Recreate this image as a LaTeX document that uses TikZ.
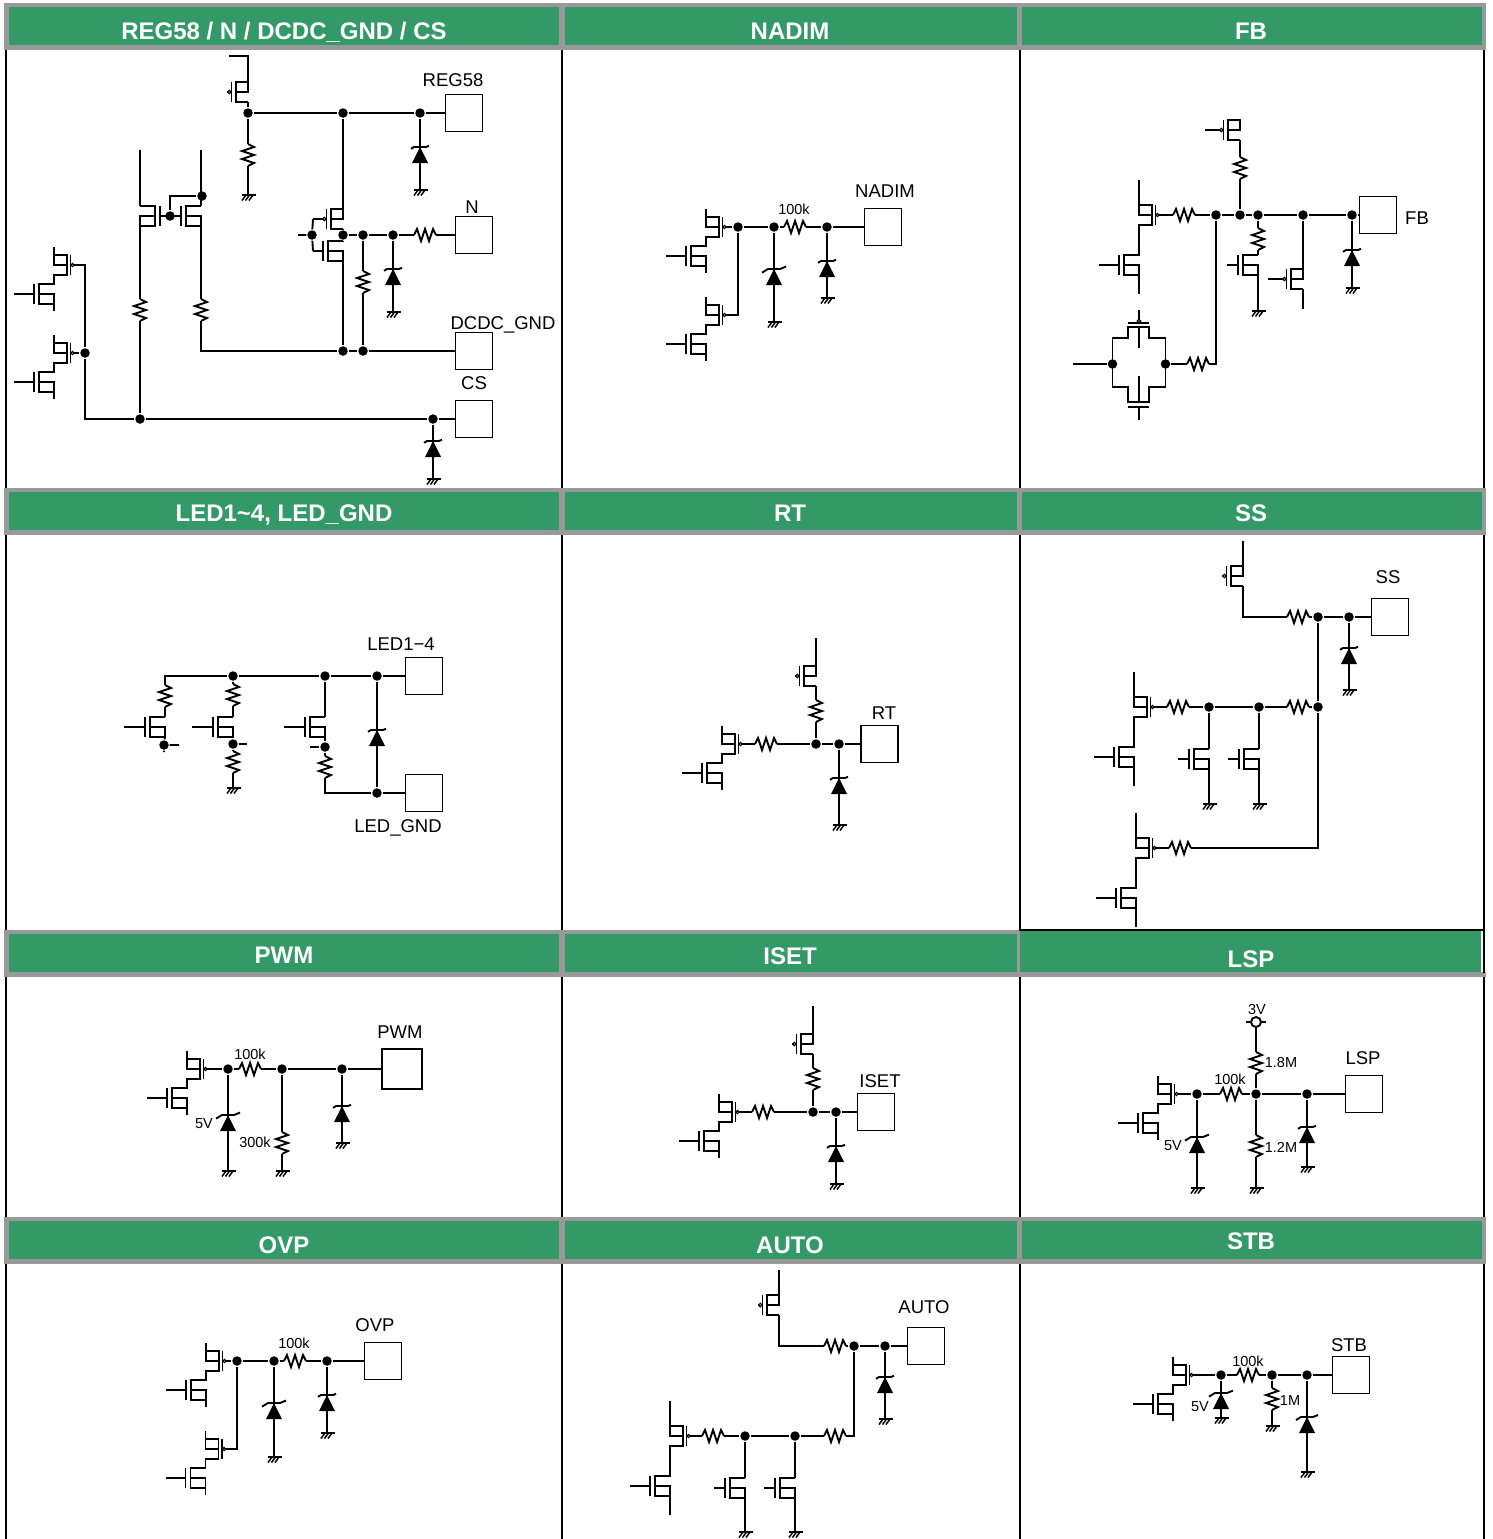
\documentclass[tikz,border=0pt]{standalone}
\usepackage{fontspec}
\setmainfont{Liberation Sans}
\usetikzlibrary{positioning}
\definecolor{hdgreen}{HTML}{339966}
\definecolor{hdgrey}{HTML}{999999}

\newcommand{\totemdraw}[3]{
  \draw (0,-#1) -- (0,0) -- (13,0);
  \draw (0,-10) -- (13,-10) -- (13,10) -- (0,10) -- (0,#2-10) -- (-15,#2-10) -- (-15,#2+10) -- (0,#2+10) -- (0,#2) -- (-15,#2);
  \draw (0,#2) -- (0,#3);
  \draw (16.5,-10) -- (16.5,10);
  \draw[line width=1.2pt] (18.5,0) circle (1.6);
  \draw (-40,#2) -- (-20,#2);
  \draw (-20,#2-10) -- (-20,#2+10);
  \coordinate (-o) at (20,0);
}

\tikzset{
  dot/.style={circle,fill=black,inner sep=0pt,minimum size=9.5pt},
  pad/.style={draw,inner sep=0pt,minimum size=37pt},
  lbl/.style={inner sep=0pt,font=\fontsize{18.5}{18.5}\selectfont},
  val/.style={inner sep=0pt,font=\fontsize{14.5}{14.5}\selectfont},
  head/.style={anchor=base,inner sep=0pt,text=white,font=\fontsize{24}{24}\selectfont\bfseries},
  pics/resh/.style={code={
    \draw (-11,0) coordinate (-l) -- (-8,-6) -- (-4,6) -- (0,-6) -- (4,6) -- (8,-6) -- (11,0) coordinate (-r);
  }},
  pics/resv/.style={code={
    \draw (0,-11) coordinate (-t) -- (6,-8) -- (-6,-4) -- (6,0) -- (-6,4) -- (6,8) -- (0,11) coordinate (-b);
  }},
  pics/gnd/.style={code={
    \coordinate (-t) at (0,0);
    \draw (-6,0) -- (7.5,0);
    \draw[line width=1.5pt] (5,0) -- (1,5.5) (1.5,0) -- (-2.5,5.5) (-2,0) -- (-6,5.5);
  }},
  pics/diode/.style={code={
    \fill (-8,8) -- (8,8) -- (0,-8) -- cycle;
    \draw (-6-#1,-8+#1*.6) -- (-6,-8) -- (6,-8) -- (6+#1,-8-#1*.4);
  }},
  pics/diode/.default=3,
  pics/nmos/.style={code={
    \draw (-#1,0) coordinate (-g) -- (-20,0);
    \draw (-20,-10) -- (-20,10);
    \draw (0,-10) coordinate (-t) -- (-15,-10) -- (-15,10) -- (0,10) coordinate (-b) -- (0,0) -- (-15,0);
  }},
  pics/nmos/.default=31,
  pics/pmos/.style={code={
    \draw (0,10) coordinate (-b) -- (-12,10) -- (-12,-10) -- (0,-10) coordinate (-t) -- (0,0) -- (-12,0);
    \draw (-16.5,-10) -- (-16.5,10);
    \draw[line width=1.2pt] (-18.7,0) circle (1.7);
    \draw (-20.3,0) -- (-#1,0) coordinate (-g);
  }},
  pics/pmos/.default=21,
  pics/totem/.style={code={\totemdraw{18}{29}{46}}},
  pics/tallpair/.style={code={\totemdraw{35}{50}{79}}},
  pics/tgate/.style={code={
    \coordinate (-l) at (-26.5,0);
    \coordinate (-r) at (26.5,0);
    \draw (-26.5,0) -- (-26.5,-26) -- (-11,-26) -- (-11,-37) -- (10,-37) -- (10,-26) -- (26.5,-26) -- (26.5,0);
    \draw (-26.5,0) -- (-26.5,23) -- (-11,23) -- (-11,38) -- (10,38) -- (10,23) -- (26.5,23) -- (26.5,0);
    \draw (-11,-41) -- (10,-41) (-11,43) -- (10,43);
    \draw (0,-36) -- (0,-16) (0,12) -- (0,38) (0,43) -- (0,56);
    \draw[line width=1.2pt] (0,-43) circle (1.7);
    \draw (0,-45) -- (0,-54);
  }},
}

\begin{document}
\begin{tikzpicture}[x=1pt,y=-1pt,line width=1.9pt]
  \useasboundingbox (0,0) rectangle (1492,1539);

  % table
  \foreach \ya/\yb in {3/50,488/535,930/977,1217/1264}{
    \fill[hdgrey] (4,\ya) rectangle (1486,\yb);
    \fill[hdgreen] (9,\ya+4) rectangle (559,\yb-5);
    \fill[hdgreen] (565,\ya+4) rectangle (1017,\yb-5);
    \fill[hdgreen] (1022,\ya+4) rectangle (1482,\yb-5);
  }
  \fill[white] (1020,926) rectangle (1487,972);
  \fill[hdgreen] (1020,931) rectangle (1481,972);
  \draw[line width=2pt] (1019,930) -- (1484,930);
  \foreach \xa in {6,562,1019.5,1483.5}{
    \foreach \ya/\yb in {50/488,535/930,977/1217,1264/1539}
      \draw[line width=2pt] (\xa,\ya) -- (\xa,\yb);
  }
  \draw[line width=2pt] (1483.5,930) -- (1483.5,973);

  \foreach \cx/\cy/\ctext [count=\i] in {
      284/39.5/{REG58 / N / DCDC\_GND / CS},790/39.5/NADIM,1251/39.5/FB,
      284/521/{LED1\textasciitilde4, LED\_GND},790/521/RT,1251/521/SS,
      284/963.5/PWM,790/964.5/ISET,1251/967.5/LSP,
      284/1253.5/OVP,790/1253.5/AUTO,1251/1249.5/STB}
    \node[head] (h\i) at (\cx,\cy) {\ctext};

  % REG58 / N / DCDC_GND / CS
  \node[pad] (pa1) at (464,113) {};
  \node[pad] (pa2) at (474,235) {};
  \node[pad] (pa3) at (474,351) {};
  \node[pad] (pa4) at (474,419) {};
  \node[lbl] (ta1) at (453,80) {REG58};
  \node[lbl] (ta2) at (472,207) {N};
  \node[lbl] (ta3) at (503,325) {DCDC\_GND};
  \node[lbl] (ta4) at (474,383) {CS};
  \node[dot] (a1) at (248,113) {};
  \node[dot] (a2) at (343,113) {};
  \node[dot] (a3) at (420,113) {};
  \node[dot] (a4) at (343,235) {};
  \node[dot] (a5) at (363,235) {};
  \node[dot] (a6) at (393,235) {};
  \node[dot] (a7) at (312,235) {};
  \node[dot] (a8) at (343,351) {};
  \node[dot] (a9) at (363,351) {};
  \node[dot] (a10) at (170,216) {};
  \node[dot] (a11) at (202,196) {};
  \node[dot] (a12) at (85,353) {};
  \node[dot] (a13) at (140,419) {};
  \node[dot] (a14) at (433,419) {};
  \pic (qa1) at (248,92) {pmos};
  \pic (qa2) at (343,219) {pmos=30};
  \pic (qa3) at (343,251) {nmos=30};
  \pic[xscale=-1] (qa4) at (140,216) {nmos=30};
  \pic (qa5) at (201,216) {nmos=31};
  \pic (ta) at (54,265) {totem};
  \pic (tb) at (54,353) {totem};
  \pic (ra1) at (248,155) {resv};
  \pic (ra2) at (363,282) {resv};
  \pic (ra3) at (140,310) {resv};
  \pic (ra4) at (201,310) {resv};
  \pic (ra5) at (425,235) {resh};
  \pic (da1) at (420,155) {diode};
  \pic (da2) at (393,277) {diode};
  \pic (da3) at (433,449) {diode};
  \pic (ga1) at (248,195) {gnd};
  \pic (ga2) at (420,190) {gnd};
  \pic (ga3) at (393,312) {gnd};
  \pic (ga4) at (433,479) {gnd};
  \coordinate (ca1) at (229,56);
  \coordinate (ca2) at (298,235);
  \coordinate (ca3) at (140,150);
  \coordinate (ca4) at (201,150);
  \draw (ca1) -| (qa1-t);
  \draw (qa1-b) -- (a1) -- (a2) -- (a3) -- (pa1);
  \draw (a1) -- (ra1-t) (ra1-b) -- (ga1-t);
  \draw (a3) -- (ga2-t);
  \draw (a2) -- (qa2-t) (qa2-b) -- (a4) -- (qa3-t) (qa3-b) -- (a8);
  \draw (qa2-g) -- (a7) -- (qa3-g) (ca2) -- (a7);
  \draw (a4) -- (a5) -- (a6) -- (ra5-l) (ra5-r) -- (pa2);
  \draw (a5) -- (ra2-t) (ra2-b) -- (a9);
  \draw (a6) -- (ga3-t);
  \draw (ca3) -- (qa4-t) (qa4-b) -- (ra3-t) (ra3-b) -- (a13);
  \draw (ca4) -- (qa5-t) (qa5-b) -- (ra4-t);
  \draw (ra4-b) |- (a8) -- (a9) -- (pa3);
  \draw (a10) |- (a11);
  \draw (ta-o) -| (a12) (tb-o) -- (a12);
  \draw (a12) |- (a13) -- (a14) -- (pa4);
  \draw (a14) -- (ga4-t);

  % NADIM
  \node[pad] (pb1) at (883,227) {};
  \node[lbl] (tb1) at (885,191) {NADIM};
  \node[val] (tb2) at (794,209) {100k};
  \node[dot] (b1) at (738,227) {};
  \node[dot] (b2) at (774,227) {};
  \node[dot] (b3) at (827,227) {};
  \pic (tc) at (706,227) {totem};
  \pic (td) at (706,315) {totem};
  \pic (rb1) at (795,227) {resh};
  \pic (db1) at (774,277) {diode=6};
  \pic (db2) at (827,269) {diode};
  \pic (gb1) at (774,322) {gnd};
  \pic (gb2) at (827,298) {gnd};
  \draw (tc-o) -- (b1) -- (b2) -- (rb1-l) (rb1-r) -- (b3) -- (pb1);
  \draw (b1) |- (td-o);
  \draw (b2) -- (gb1-t) (b3) -- (gb2-t);

  % FB
  \node[pad] (pc1) at (1378,215) {};
  \node[lbl] (tc1) at (1417,218) {FB};
  \node[dot] (c1) at (1216,215) {};
  \node[dot] (c2) at (1240,215) {};
  \node[dot] (c3) at (1258,215) {};
  \node[dot] (c4) at (1303,215) {};
  \node[dot] (c5) at (1352,215) {};
  \node[dot] (c6) at (1112.5,364) {};
  \node[dot] (c7) at (1165.5,364) {};
  \pic (te) at (1139,215) {tallpair};
  \pic (qc1) at (1240,130) {pmos=35};
  \pic (qc2) at (1258,265) {nmos};
  \pic (qc3) at (1303,279) {pmos=35};
  \pic (tg1) at (1139,364) {tgate};
  \pic (rc1) at (1184,215) {resh};
  \pic (rc2) at (1240,168) {resv};
  \pic (rc3) at (1258,239) {resv};
  \pic (rc4) at (1198,364) {resh};
  \pic (dc1) at (1352,258) {diode};
  \pic (gc1) at (1258,311) {gnd};
  \pic (gc2) at (1352,288) {gnd};
  \coordinate (cc1) at (1303,309);
  \coordinate (cc2) at (1073,364);
  \draw (te-o) -- (rc1-l) (rc1-r) -- (c1) -- (c2) -- (c3) -- (c4) -- (c5) -- (pc1);
  \draw (qc1-b) -- (rc2-t) (rc2-b) -- (c2);
  \draw (c3) -- (rc3-t) (rc3-b) -- (qc2-t) (qc2-b) -- (gc1-t);
  \draw (c4) -- (qc3-t) (qc3-b) -- (cc1);
  \draw (c5) -- (gc2-t);
  \draw (cc2) -- (c6) (c7) -- (rc4-l);
  \draw (rc4-r) -| (c1);

  % LED1~4, LED_GND
  \node[pad] (pd1) at (424,676) {};
  \node[pad] (pd2) at (424,793) {};
  \node[lbl] (td1) at (401,644) {LED1−4};
  \node[lbl] (td2) at (398,828) {LED\_GND};
  \node[dot] (d1) at (233,676) {};
  \node[dot] (d2) at (325,676) {};
  \node[dot] (d3) at (377,676) {};
  \node[dot] (d4) at (164,745) {};
  \node[dot] (d5) at (233,744) {};
  \node[dot] (d6) at (325,747) {};
  \node[dot] (d7) at (377,793) {};
  \pic (qd1) at (165,727) {nmos=41};
  \pic (qd2) at (233,727) {nmos=41};
  \pic (qd3) at (325,727) {nmos=41};
  \pic (rd1) at (165,696) {resv};
  \pic (rd2) at (233,695) {resv};
  \pic (rd3) at (233,762) {resv};
  \pic (rd4) at (325,767) {resv};
  \pic (dd1) at (377,738) {diode};
  \pic (gd1) at (233,788) {gnd};
  \coordinate (cd1) at (179,745);
  \coordinate (cd2) at (164,752);
  \coordinate (cd3) at (247,744);
  \coordinate (cd4) at (310,747);
  \draw (rd1-t) |- (d1) -- (d2) -- (d3) -- (pd1);
  \draw (rd1-b) -- (qd1-t) (qd1-b) -- (d4) -- (cd1) (d4) -- (cd2);
  \draw (d1) -- (rd2-t) (rd2-b) -- (qd2-t) (qd2-b) -- (d5) -- (cd3);
  \draw (d5) -- (rd3-t) (rd3-b) -- (gd1-t);
  \draw (d2) -- (qd3-t) (qd3-b) -- (d6) -- (cd4) (d6) -- (rd4-t);
  \draw (rd4-b) |- (d7) -- (pd2);
  \draw (d3) -- (d7);

  % RT
  \node[pad] (pe1) at (879.5,744) {};
  \node[lbl] (te1) at (884,713) {RT};
  \node[dot] (e1) at (816,744) {};
  \node[dot] (e2) at (839,744) {};
  \pic (tf) at (722,744) {totem};
  \pic (qe1) at (816,676) {pmos};
  \pic (re1) at (766,744) {resh};
  \pic (re2) at (816,711) {resv};
  \pic (de1) at (839,786) {diode};
  \pic (ge1) at (839,825) {gnd};
  \coordinate (ce1) at (816,638);
  \draw (ce1) -- (qe1-t) (qe1-b) -- (re2-t) (re2-b) -- (e1);
  \draw (tf-o) -- (re1-l) (re1-r) -- (e1) -- (e2) -- (pe1);
  \draw (e2) -- (ge1-t);

  % SS
  \node[pad] (pf1) at (1390,617) {};
  \node[lbl] (tf1) at (1388,577) {SS};
  \node[dot] (f1) at (1318,617) {};
  \node[dot] (f2) at (1349,617) {};
  \node[dot] (f3) at (1318,707) {};
  \node[dot] (f4) at (1209,707) {};
  \node[dot] (f5) at (1259,707) {};
  \pic (tg) at (1134,707) {tallpair};
  \pic (th) at (1136,848) {tallpair};
  \pic (qf1) at (1243,576) {pmos};
  \pic (qf2) at (1209,759) {nmos};
  \pic (qf3) at (1259,759) {nmos};
  \pic (rf1) at (1298,617) {resh};
  \pic (rf2) at (1178,707) {resh};
  \pic (rf3) at (1298,707) {resh};
  \pic (rf4) at (1180,848) {resh};
  \pic (df1) at (1349,656) {diode};
  \pic (gf1) at (1349,690) {gnd};
  \pic (gf2) at (1209,804) {gnd};
  \pic (gf3) at (1259,804) {gnd};
  \coordinate (cf1) at (1243,541);
  \draw (cf1) -- (qf1-t);
  \draw (qf1-b) |- (rf1-l) (rf1-r) -- (f1) -- (f2) -- (pf1);
  \draw (f2) -- (gf1-t);
  \draw (tg-o) -- (rf2-l) (rf2-r) -- (f4) -- (f5) -- (rf3-l) (rf3-r) -- (f3) -- (f1);
  \draw (f4) -- (qf2-t) (qf2-b) -- (gf2-t);
  \draw (f5) -- (qf3-t) (qf3-b) -- (gf3-t);
  \draw (th-o) -- (rf4-l);
  \draw (rf4-r) -| (f3);

  % PWM
  \node[pad,minimum size=40pt] (pg1) at (402,1069) {};
  \node[lbl] (tg1l) at (400,1032) {PWM};
  \node[val] (tg2) at (250,1054) {100k};
  \node[val] (tg3) at (204,1124) {5V};
  \node[val] (tg4) at (255,1142) {300k};
  \node[dot] (g1) at (228,1069) {};
  \node[dot] (g2) at (282,1069) {};
  \node[dot] (g3) at (342,1069) {};
  \pic (ti) at (187,1069) {totem};
  \pic (rg1) at (250,1069) {resh};
  \pic (rg2) at (282,1143) {resv};
  \pic (dg1) at (228,1123) {diode=6};
  \pic (dg2) at (342,1114) {diode};
  \pic (gg1) at (228,1171) {gnd};
  \pic (gg2) at (282,1171) {gnd};
  \pic (gg3) at (342,1143) {gnd};
  \draw (ti-o) -- (g1) -- (rg1-l) (rg1-r) -- (g2) -- (g3) -- (pg1);
  \draw (g1) -- (gg1-t);
  \draw (g2) -- (rg2-t) (rg2-b) -- (gg2-t);
  \draw (g3) -- (gg3-t);

  % ISET
  \node[pad] (ph1) at (876,1112) {};
  \node[lbl] (th1) at (880,1081) {ISET};
  \node[dot] (h1) at (813,1112) {};
  \node[dot] (h2) at (836,1112) {};
  \pic (tj) at (719,1112) {totem};
  \pic (qh1) at (813,1044) {pmos};
  \pic (rh1) at (763,1112) {resh};
  \pic (rh2) at (813,1079) {resv};
  \pic (dh1) at (836,1154) {diode};
  \pic (gh1) at (836,1184) {gnd};
  \coordinate (ch1) at (813,1006);
  \draw (ch1) -- (qh1-t) (qh1-b) -- (rh2-t) (rh2-b) -- (h1);
  \draw (tj-o) -- (rh1-l) (rh1-r) -- (h1) -- (h2) -- (ph1);
  \draw (h2) -- (gh1-t);

  % LSP
  \node[pad] (pi1) at (1364,1094) {};
  \node[lbl] (ti1) at (1363,1058) {LSP};
  \node[val] (ti2) at (1230,1079) {100k};
  \node[val] (ti3) at (1257,1009) {3V};
  \node[val] (ti4) at (1281,1062) {1.8M};
  \node[val] (ti5) at (1281,1147) {1.2M};
  \node[val] (ti6) at (1173,1146) {5V};
  \node[dot] (i1) at (1197,1094) {};
  \node[dot] (i2) at (1256,1094) {};
  \node[dot] (i3) at (1307,1094) {};
  \node[circle,draw,inner sep=0pt,minimum size=10pt] (i4) at (1256,1022) {};
  \pic (tk) at (1158,1094) {totem};
  \pic (ri1) at (1231,1094) {resh};
  \pic (ri2) at (1256,1063) {resv};
  \pic (ri3) at (1256,1146) {resv};
  \pic (di1) at (1197,1145) {diode=6};
  \pic (di2) at (1307,1135) {diode};
  \pic (gi1) at (1197,1188) {gnd};
  \pic (gi2) at (1256,1188) {gnd};
  \pic (gi3) at (1307,1167) {gnd};
  \coordinate (ci1) at (1246,1022);
  \coordinate (ci2) at (1266,1022);
  \draw (ci1) -- (i4) (i4) -- (ci2);
  \draw (tk-o) -- (i1) -- (ri1-l) (ri1-r) -- (i2) -- (i3) -- (pi1);
  \draw (i1) -- (gi1-t);
  \draw (i4) -- (ri2-t) (ri2-b) -- (i2) -- (ri3-t) (ri3-b) -- (gi2-t);
  \draw (i3) -- (gi3-t);

  % OVP
  \node[pad] (pj1) at (383,1361) {};
  \node[lbl] (tj1) at (375,1325) {OVP};
  \node[val] (tj2) at (294,1343) {100k};
  \node[dot] (j1) at (237,1361) {};
  \node[dot] (j2) at (274,1361) {};
  \node[dot] (j3) at (327,1361) {};
  \pic (tl) at (206,1361) {totem};
  \pic (tm) at (205.5,1449) {totem};
  \pic (rj1) at (295,1361) {resh};
  \pic (dj1) at (274,1411) {diode=6};
  \pic (dj2) at (327,1403) {diode};
  \pic (gj1) at (274,1457) {gnd};
  \pic (gj2) at (327,1433) {gnd};
  \draw (tl-o) -- (j1) -- (j2) -- (rj1-l) (rj1-r) -- (j3) -- (pj1);
  \draw (j1) |- (tm-o);
  \draw (j2) -- (gj1-t) (j3) -- (gj2-t);

  % AUTO
  \node[pad] (pk1) at (926,1346) {};
  \node[lbl] (tk1) at (924,1307) {AUTO};
  \node[dot] (k1) at (854,1346) {};
  \node[dot] (k2) at (885,1346) {};
  \node[dot] (k3) at (745,1436) {};
  \node[dot] (k4) at (795,1436) {};
  \pic (tn) at (670,1436) {tallpair};
  \pic (qk1) at (779,1305) {pmos};
  \pic (qk2) at (745,1488) {nmos};
  \pic (qk3) at (795,1488) {nmos};
  \pic (rk1) at (835,1346) {resh};
  \pic (rk2) at (713,1436) {resh};
  \pic (rk3) at (835,1436) {resh};
  \pic (dk1) at (885,1385) {diode};
  \pic (gk1) at (885,1419) {gnd};
  \pic (gk2) at (745,1532) {gnd};
  \pic (gk3) at (795,1532) {gnd};
  \coordinate (ck1) at (779,1270);
  \draw (ck1) -- (qk1-t);
  \draw (qk1-b) |- (rk1-l) (rk1-r) -- (k1) -- (k2) -- (pk1);
  \draw (k2) -- (gk1-t);
  \draw (tn-o) -- (rk2-l) (rk2-r) -- (k3) -- (k4) -- (rk3-l);
  \draw (rk3-r) -| (k1);
  \draw (k3) -- (qk2-t) (qk2-b) -- (gk2-t);
  \draw (k4) -- (qk3-t) (qk3-b) -- (gk3-t);

  % STB
  \node[pad] (pl1) at (1351,1375) {};
  \node[lbl] (tl1) at (1349,1345) {STB};
  \node[val] (tl2) at (1248,1361) {100k};
  \node[val] (tl3) at (1290,1400) {1M};
  \node[val] (tl4) at (1200,1407) {5V};
  \node[dot] (l1) at (1221,1375) {};
  \node[dot] (l2) at (1272,1375) {};
  \node[dot] (l3) at (1307,1375) {};
  \pic (to) at (1173,1375) {totem};
  \pic (rl1) at (1248,1375) {resh};
  \pic (rl2) at (1272,1399) {resv};
  \pic (dl1) at (1221,1401) {diode=6};
  \pic (dl2) at (1307,1425) {diode=5};
  \pic (gl1) at (1221,1418) {gnd};
  \pic (gl2) at (1272,1426) {gnd};
  \pic (gl3) at (1307,1472) {gnd};
  \draw (to-o) -- (l1) -- (rl1-l) (rl1-r) -- (l2) -- (l3) -- (pl1);
  \draw (l1) -- (gl1-t);
  \draw (l2) -- (rl2-t) (rl2-b) -- (gl2-t);
  \draw (l3) -- (gl3-t);
\end{tikzpicture}
\end{document}
